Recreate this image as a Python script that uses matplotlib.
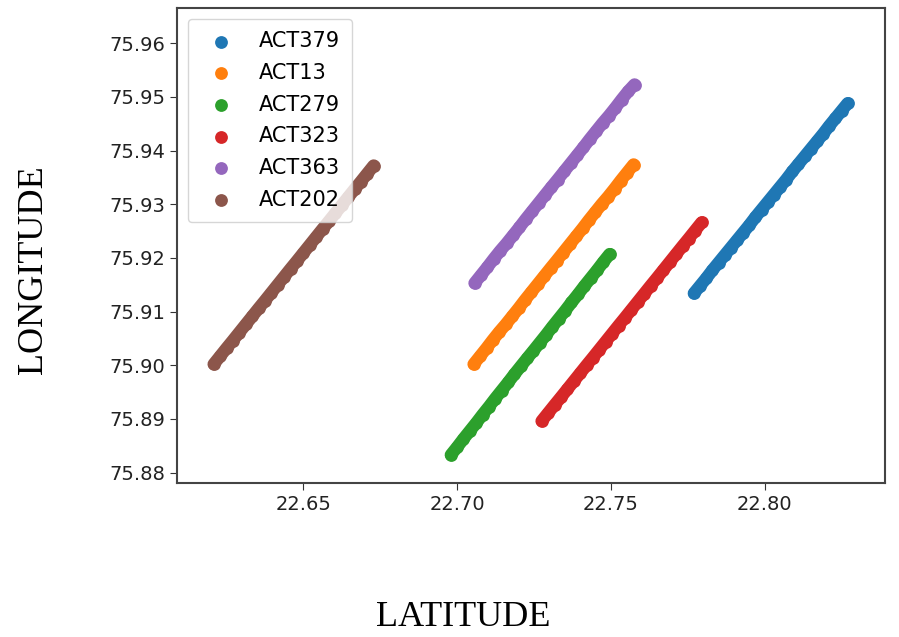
import matplotlib
matplotlib.use("Agg")
import matplotlib.pyplot as plt

# GPS tracks (latitude, longitude)
labels = ["ACT379", "ACT13", "ACT279", "ACT323", "ACT363", "ACT202"]

lat_379 = [22.7770, 22.7790, 22.7810, 22.7830, 22.7850, 22.7870, 22.7890, 22.7910, 22.7930,
           22.7950, 22.7970, 22.7990, 22.8010, 22.8030, 22.8050, 22.8070, 22.8090, 22.8110,
           22.8130, 22.8150, 22.8170, 22.8190, 22.8210, 22.8230, 22.8250, 22.8270]
lon_379 = [75.9134, 75.9148, 75.9162, 75.9177, 75.9191, 75.9205, 75.9219, 75.9233, 75.9247,
           75.9261, 75.9276, 75.9290, 75.9304, 75.9318, 75.9332, 75.9346, 75.9361, 75.9375,
           75.9389, 75.9403, 75.9417, 75.9431, 75.9446, 75.9460, 75.9474, 75.9488]

lat_13 = [22.7054, 22.7075, 22.7096, 22.7116, 22.7137, 22.7158, 22.7179, 22.7200, 22.7220,
          22.7241, 22.7262, 22.7283, 22.7304, 22.7324, 22.7345, 22.7366, 22.7387, 22.7408,
          22.7428, 22.7449, 22.7470, 22.7491, 22.7512, 22.7532, 22.7553, 22.7574]
lon_13 = [75.9002, 75.9017, 75.9032, 75.9047, 75.9062, 75.9076, 75.9091, 75.9106, 75.9121,
          75.9136, 75.9151, 75.9166, 75.9181, 75.9195, 75.9210, 75.9225, 75.9240, 75.9255,
          75.9270, 75.9285, 75.9300, 75.9314, 75.9329, 75.9344, 75.9359, 75.9374]

lat_279 = [22.6980, 22.7001, 22.7021, 22.7042, 22.7063, 22.7083, 22.7104, 22.7124, 22.7145,
           22.7166, 22.7186, 22.7207, 22.7228, 22.7248, 22.7269, 22.7290, 22.7310, 22.7331,
           22.7352, 22.7372, 22.7393, 22.7413, 22.7434, 22.7455, 22.7475, 22.7496]
lon_279 = [75.8833, 75.8848, 75.8863, 75.8878, 75.8893, 75.8908, 75.8923, 75.8938, 75.8953,
           75.8968, 75.8983, 75.8998, 75.9013, 75.9027, 75.9042, 75.9057, 75.9072, 75.9087,
           75.9102, 75.9117, 75.9132, 75.9147, 75.9162, 75.9177, 75.9192, 75.9207]

lat_323 = [22.7275, 22.7296, 22.7317, 22.7337, 22.7358, 22.7379, 22.7400, 22.7421, 22.7441,
           22.7462, 22.7483, 22.7504, 22.7525, 22.7545, 22.7566, 22.7587, 22.7608, 22.7629,
           22.7649, 22.7670, 22.7691, 22.7712, 22.7733, 22.7753, 22.7774, 22.7795]
lon_323 = [75.8896, 75.8911, 75.8926, 75.8940, 75.8955, 75.8970, 75.8985, 75.9000, 75.9014,
           75.9029, 75.9044, 75.9059, 75.9074, 75.9088, 75.9103, 75.9118, 75.9133, 75.9148,
           75.9162, 75.9177, 75.9192, 75.9207, 75.9222, 75.9236, 75.9251, 75.9266]

lat_363 = [22.7057, 22.7078, 22.7099, 22.7119, 22.7140, 22.7161, 22.7182, 22.7203, 22.7223,
           22.7244, 22.7265, 22.7286, 22.7307, 22.7327, 22.7348, 22.7369, 22.7390, 22.7411,
           22.7431, 22.7452, 22.7473, 22.7494, 22.7515, 22.7535, 22.7556, 22.7577]
lon_363 = [75.9153, 75.9168, 75.9183, 75.9198, 75.9213, 75.9227, 75.9242, 75.9257, 75.9272,
           75.9287, 75.9302, 75.9317, 75.9332, 75.9346, 75.9361, 75.9376, 75.9391, 75.9406,
           75.9421, 75.9436, 75.9451, 75.9465, 75.9480, 75.9495, 75.9510, 75.9523]

lat_202 = [22.6209, 22.6230, 22.6251, 22.6271, 22.6292, 22.6313, 22.6334, 22.6355, 22.6375,
           22.6396, 22.6417, 22.6438, 22.6459, 22.6479, 22.6500, 22.6521, 22.6542, 22.6563,
           22.6583, 22.6604, 22.6625, 22.6646, 22.6667, 22.6687, 22.6708, 22.6729]
lon_202 = [75.9002, 75.9017, 75.9032, 75.9046, 75.9061, 75.9076, 75.9091, 75.9106, 75.9120,
           75.9135, 75.9150, 75.9165, 75.9180, 75.9194, 75.9209, 75.9224, 75.9239, 75.9254,
           75.9268, 75.9283, 75.9298, 75.9313, 75.9328, 75.9342, 75.9357, 75.9372]

lats = [lat_379, lat_13, lat_279, lat_323, lat_363, lat_202]
lons = [lon_379, lon_13, lon_279, lon_323, lon_363, lon_202]
colors = ["#1f77b4", "#ff7f0e", "#2ca02c", "#d62728", "#9467bd", "#8c564b"]

fig = plt.figure(figsize=(8.99, 6.37), dpi=100)
ax = fig.add_axes([0.197, 0.242, 0.787, 0.745])

# points are so dense in the original they merge into a solid track
for x, y, c, lab in zip(lats, lons, colors, labels):
    ax.plot(x, y, color=c, lw=9, solid_capstyle="round")
    ax.scatter(x, y, s=85, color=c, linewidths=0, label=lab)

ax.set_xlim(22.609, 22.839)
ax.set_ylim(75.8781, 75.9665)
ax.set_xticks([22.65, 22.70, 22.75, 22.80])
ax.set_yticks([75.88, 75.89, 75.90, 75.91, 75.92, 75.93, 75.94, 75.95, 75.96])
ax.tick_params(labelsize=14, length=5, colors="#333333", labelcolor="#222222")
for sp in ax.spines.values():
    sp.set_color("#444444")
    sp.set_linewidth(1.5)

ax.legend(loc="upper left", fontsize=15, handletextpad=0.8, borderpad=0.6,
          labelspacing=0.56, scatterpoints=1)

fig.text(0.515, 0.03, "LATITUDE", family="Liberation Serif", fontsize=26,
         ha="center", va="center")
fig.text(0.037, 0.576, "LONGITUDE", family="Liberation Serif", fontsize=26,
         ha="center", va="center", rotation=90)

fig.savefig("out.png", dpi=100)
